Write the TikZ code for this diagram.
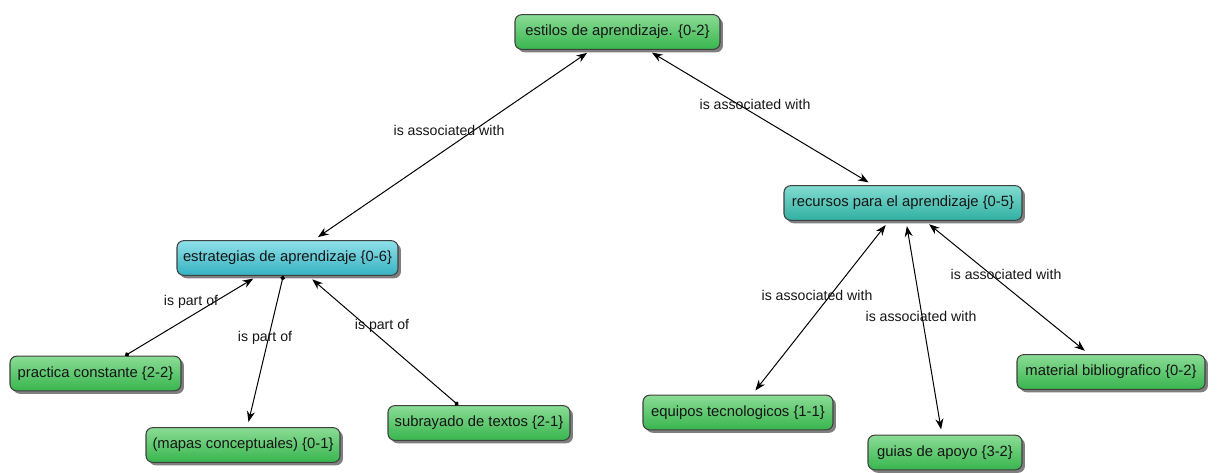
\documentclass[tikz,border=0pt]{standalone}
\usepackage{fontspec}
\setmainfont{Liberation Sans}
\usetikzlibrary{shadows,arrows.meta}
\definecolor{gtop}{HTML}{8ADC95}
\definecolor{gbot}{HTML}{38B54E}
\definecolor{ctop}{HTML}{8FE0E9}
\definecolor{cbot}{HTML}{36B2C2}
\definecolor{ttop}{HTML}{82DBD0}
\definecolor{tbot}{HTML}{30B0A2}
\definecolor{txt}{HTML}{151515}
\tikzset{
  concept/.style={draw=black!75, line width=0.8pt, rounded corners=5pt,
    shading=axis, shading angle=0, text=txt, inner sep=0pt,
    minimum height=26pt, font=\fontsize{11.1pt}{13pt}\selectfont,
    drop shadow={shadow xshift=2.2pt, shadow yshift=-2.2pt, fill=black, opacity=.5}},
  greenbox/.style={concept, top color=gtop, bottom color=gbot},
  cyanbox/.style={concept, top color=ctop, bottom color=cbot},
  tealbox/.style={concept, top color=ttop, bottom color=tbot},
  lbl/.style={text=txt, inner sep=0pt, font=\fontsize{10.6pt}{12pt}\selectfont},
  link/.style={line width=0.75pt, black},
  both/.style={link, {Stealth[length=8pt,width=6pt]}-{Stealth[length=8pt,width=6pt]}, shorten <=4pt, shorten >=4pt},
  dotto/.style={link, {Circle[length=3.4pt]}-{Stealth[length=8pt,width=6pt]}, shorten >=4pt}
}
\begin{document}
\begin{tikzpicture}[x=0.75pt,y=-0.75pt]
\useasboundingbox (0,0) rectangle (1217,473);

% concepts
\node[greenbox, minimum width=153.75pt] (estilos) at (617.5,32) {estilos de aprendizaje. \{0-2\}};
\node[cyanbox, minimum width=165.75pt] (estrat) at (287.5,258) {estrategias de aprendizaje \{0-6\}};
\node[tealbox, minimum width=178.5pt] (recursos) at (903,203) {recursos para el aprendizaje \{0-5\}};
\node[greenbox, minimum width=128.25pt] (practica) at (95.5,373.5) {practica constante \{2-2\}};
\node[greenbox, minimum width=145.5pt] (mapas) at (243,445) {(mapas conceptuales) \{0-1\}};
\node[greenbox, minimum width=136.5pt] (subr) at (479,423) {subrayado de textos \{2-1\}};
\node[greenbox, minimum width=142.5pt] (equipos) at (738,412.5) {equipos tecnologicos \{1-1\}};
\node[greenbox, minimum width=115.5pt] (guias) at (945,452.5) {guias de apoyo \{3-2\}};
\node[greenbox, minimum width=141pt] (material) at (1111,372) {material bibliografico \{0-2\}};

% links
\draw[both] (estilos) -- (estrat);
\draw[both] (estilos) -- (recursos);
\draw[dotto] (practica) -- (estrat);
\draw[dotto] (estrat) -- (mapas);
\draw[dotto] (subr) -- (estrat);
\draw[both] (recursos) -- (equipos);
\draw[both] (recursos) -- (guias);
\draw[both] (recursos) -- (material);

% link labels
\node[lbl] (l1) at (449,130) {is associated with};
\node[lbl] (l2) at (755,104) {is associated with};
\node[lbl] (l3) at (191,302) {is part of};
\node[lbl] (l4) at (265,338) {is part of};
\node[lbl] (l5) at (382,326) {is part of};
\node[lbl] (l6) at (817,295) {is associated with};
\node[lbl] (l7) at (921,316) {is associated with};
\node[lbl] (l8) at (1006,274) {is associated with};
\end{tikzpicture}
\end{document}
